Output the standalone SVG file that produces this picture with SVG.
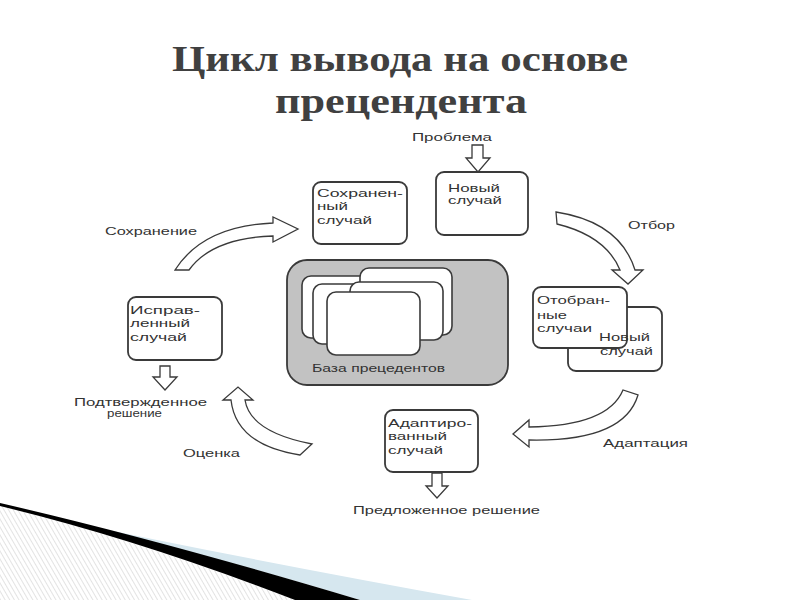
<svg xmlns="http://www.w3.org/2000/svg" width="800" height="600" viewBox="0 0 800 600">
<defs>
<style>
.t{font-family:"Liberation Sans",Arial,sans-serif;font-size:11px;fill:#333}
.title{font-family:"Liberation Serif","DejaVu Serif",serif;font-weight:bold;font-size:36px;fill:#404040}
.box{fill:#fff;stroke:#3a3a3a;stroke-width:1.8}
.card{fill:#fff;stroke:#3a3a3a;stroke-width:1.6}
.arr{fill:#fff;stroke:#3a3a3a;stroke-width:1.3;stroke-linejoin:miter}
</style>
<pattern id="hatch" width="4" height="4" patternUnits="userSpaceOnUse" patternTransform="rotate(-30)">
<rect width="4" height="4" fill="#fff"/>
<line x1="0" y1="0" x2="0" y2="4" stroke="#d0d0d0" stroke-width="1.2"/>
</pattern>
</defs>
<rect width="800" height="600" fill="#fff"/>
<g id="decor">
<path d="M0,504 Q150,545 296,600 L0,600 Z" fill="url(#hatch)"/>
<path d="M60,520 Q250,560 472,600 L360,600 Q200,552 60,520 Z" fill="#d6e7ef"/>
<path d="M0,503 Q160,540 360,600 L295,600 Q140,540 0,506 Z" fill="#000"/>
</g>
<g id="title">
<text class="title" x="172" y="71" textLength="456" lengthAdjust="spacingAndGlyphs">Цикл вывода на основе</text>
<text class="title" x="275" y="113" textLength="252" lengthAdjust="spacingAndGlyphs">прецендента</text>
</g>
<g id="connectors">
<path id="problem-arrow" class="arr" d="M472,145 L483,145 L483,158 L490,158 L478,172 L466,158 L472,158 Z"/>
<path id="save-arrow" class="arr" d="M175,270 Q203,226 273,223 L273,217 L298,229 L273,242 L273,236 Q212,238 189,270 Z"/>
<path id="select-arrow" class="arr" d="M556,212 Q620,222 635,270 L643,270 L628,284 L612,270 L620,270 Q606,236 557,224 Z"/>
<path id="adapt-arrow" class="arr" d="M623,390 Q608,426 529,427 L529,420 L513,434 L529,447 L529,440 Q624,442 638,395 Z"/>
<path id="eval-arrow" class="arr" d="M300,455 Q236,445 231,400 L223,400 L238,387 L253,400 L245,400 Q250,432 312,444 Z"/>
<path id="proposed-arrow" class="arr" d="M432,473 L442,473 L442,486 L448,486 L437,498 L426,486 L432,486 Z"/>
<path id="confirmed-arrow" class="arr" d="M160,366 L170,366 L170,377 L177,377 L165,390 L153,377 L160,377 Z"/>
</g>
<g id="labels">
<text class="t" x="412" y="141" textLength="80" lengthAdjust="spacingAndGlyphs">Проблема</text>
<text class="t" x="105" y="235" textLength="92" lengthAdjust="spacingAndGlyphs">Сохранение</text>
<text class="t" x="628" y="229" textLength="47" lengthAdjust="spacingAndGlyphs">Отбор</text>
<text class="t" x="603" y="447" textLength="85" lengthAdjust="spacingAndGlyphs">Адаптация</text>
<text class="t" x="183" y="457" textLength="57" lengthAdjust="spacingAndGlyphs">Оценка</text>
<text class="t" x="74" y="406" textLength="133" lengthAdjust="spacingAndGlyphs">Подтвержденное</text>
<text class="t" x="107" y="417" textLength="55" lengthAdjust="spacingAndGlyphs">решение</text>
<text class="t" x="353" y="514" textLength="187" lengthAdjust="spacingAndGlyphs">Предложенное решение</text>
</g>
<g id="new-case">
<rect class="box" x="436" y="172" width="92" height="63" rx="8"/>
<text class="t" x="448" y="192" textLength="52" lengthAdjust="spacingAndGlyphs">Новый</text>
<text class="t" x="448" y="204" textLength="54" lengthAdjust="spacingAndGlyphs">случай</text>
</g>
<g id="saved-case">
<rect class="box" x="313" y="182" width="94" height="62" rx="8"/>
<text class="t" x="317" y="197" textLength="86" lengthAdjust="spacingAndGlyphs">Сохранен-</text>
<text class="t" x="317" y="210" textLength="31" lengthAdjust="spacingAndGlyphs">ный</text>
<text class="t" x="317" y="224" textLength="55" lengthAdjust="spacingAndGlyphs">случай</text>
</g>
<g id="corrected-case">
<rect class="box" x="128" y="297" width="94" height="63" rx="8"/>
<text class="t" x="130" y="314" textLength="70" lengthAdjust="spacingAndGlyphs">Исправ-</text>
<text class="t" x="130" y="327" textLength="60" lengthAdjust="spacingAndGlyphs">ленный</text>
<text class="t" x="130" y="341" textLength="57" lengthAdjust="spacingAndGlyphs">случай</text>
</g>
<g id="case-base">
<rect x="287" y="260" width="221" height="125" rx="20" fill="#c2c2c2" stroke="#3a3a3a" stroke-width="1.8"/>
<rect class="card" x="302" y="276" width="95" height="62" rx="9"/>
<rect class="card" x="360" y="268" width="92" height="67" rx="9"/>
<rect class="card" x="313" y="284" width="95" height="60" rx="9"/>
<rect class="card" x="350" y="282" width="93" height="58" rx="9"/>
<rect class="card" x="327" y="292" width="93" height="63" rx="9"/>
<text class="t" x="312" y="372" textLength="133" lengthAdjust="spacingAndGlyphs">База прецедентов</text>
</g>
<g id="selected-cases">
<rect class="box" x="568" y="307" width="94" height="64" rx="8"/>
<rect class="box" x="533" y="287" width="94" height="61" rx="8"/>
<text class="t" x="537" y="304" textLength="73" lengthAdjust="spacingAndGlyphs">Отобран-</text>
<text class="t" x="537" y="319" textLength="30" lengthAdjust="spacingAndGlyphs">ные</text>
<text class="t" x="537" y="332" textLength="55" lengthAdjust="spacingAndGlyphs">случаи</text>
<text class="t" x="599" y="341" textLength="51" lengthAdjust="spacingAndGlyphs">Новый</text>
<text class="t" x="600" y="355" textLength="53" lengthAdjust="spacingAndGlyphs">случай</text>
</g>
<g id="adapted-case">
<rect class="box" x="385" y="410" width="93" height="62" rx="8"/>
<text class="t" x="388" y="427" textLength="84" lengthAdjust="spacingAndGlyphs">Адаптиро-</text>
<text class="t" x="388" y="440" textLength="59" lengthAdjust="spacingAndGlyphs">ванный</text>
<text class="t" x="388" y="454" textLength="55" lengthAdjust="spacingAndGlyphs">случай</text>
</g>
</svg>
